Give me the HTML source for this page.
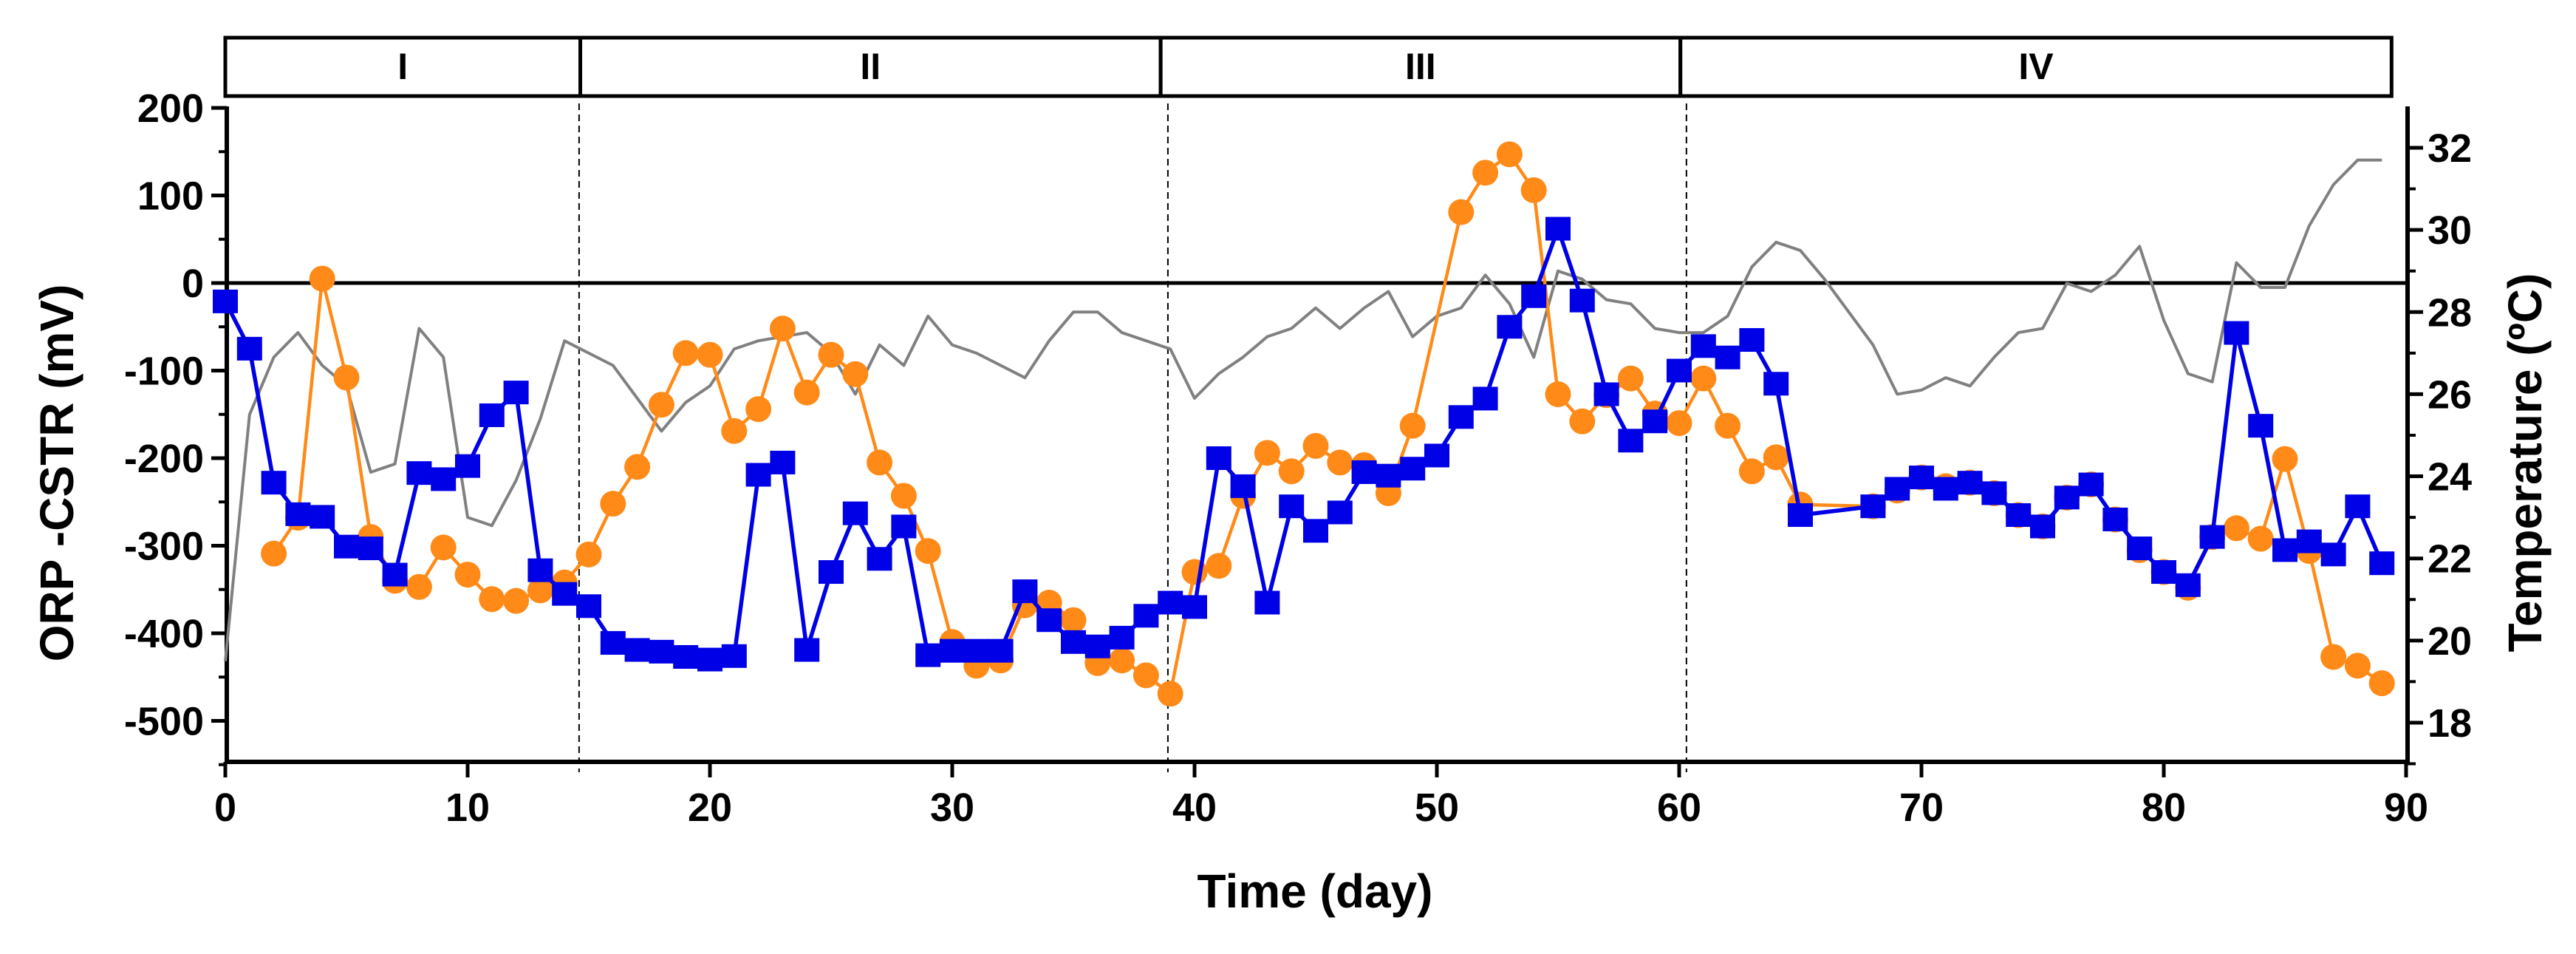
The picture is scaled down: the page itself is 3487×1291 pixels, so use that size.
<!DOCTYPE html>
<html><head><meta charset="utf-8"><style>
html,body{margin:0;padding:0;background:#fff;}
svg{display:block;font-family:"Liberation Sans",Arial,sans-serif;font-weight:bold;}
</style></head><body>
<svg id="chart" width="3487" height="1291" viewBox="0 0 3487 1291" xmlns="http://www.w3.org/2000/svg">
<rect x="0" y="0" width="3487" height="1291" fill="#fff"/>
<g id="phases"></g>
<g id="axes"></g>
<g id="series"></g>
<text x="1780" y="1228" font-size="64" text-anchor="middle">Time (day)</text>
<text transform="translate(99,640) rotate(-90)" font-size="64" text-anchor="middle">ORP -CSTR (mV)</text>
<text transform="translate(3440,626) rotate(-90)" font-size="64" text-anchor="middle">Temperature (ºC)</text>
</svg>
<script>
const xTicks=[0,10,20,30,40,50,60,70,80,90];
const yTicks=[200,100,0,-100,-200,-300,-400,-500];
const tTicks=[18,20,22,24,26,28,30,32];
const phaseNames=["I","II","III","IV"];
const phaseBounds=[0,14.65,38.6,60.05,89.4];
const dashDays=[14.6,38.9,60.3];
const blueDays=[0,1,2,3,4,5,6,7,8,9,10,11,12,13,14,15,16,17,18,19,20,21,22,23,24,25,26,27,28,29,30,31,32,33,34,35,36,37,38,39,40,41,42,43,44,45,46,47,48,49,50,51,52,53,54,55,56,57,58,59,60,61,62,63,64,65,68,69,70,71,72,73,74,75,76,77,78,79,80,81,82,83,84,85,86,87,88,89];
const blueVals=[-21,-75,-228,-264,-267,-301,-303,-333,-217,-224,-209,-151,-125,-328,-355,-369,-411,-419,-421,-427,-430,-426,-219,-205,-419,-330,-263,-315,-278,-425,-420,-420,-420,-352,-385,-410,-415,-405,-380,-365,-370,-200,-232,-365,-255,-283,-262,-216,-220,-212,-197,-153,-132,-50,-15,62,-20,-127,-180,-158,-100,-72,-85,-65,-115,-265,-255,-235,-222,-235,-228,-240,-265,-278,-245,-230,-270,-303,-330,-345,-290,-57,-163,-305,-295,-310,-255,-320];
const orangeDays=[2,3,4,5,6,7,8,9,10,11,12,13,14,15,16,17,18,19,20,21,22,23,24,25,26,27,28,29,30,31,32,33,34,35,36,37,38,39,40,41,42,43,44,45,46,47,48,49,51,52,53,54,55,56,57,58,59,60,61,62,63,64,65,68,69,70,71,72,73,74,75,76,77,78,79,80,81,82,83,84,85,86,87,88,89];
const orangeVals=[-309,-268,5,-108,-290,-340,-347,-302,-333,-361,-363,-351,-342,-310,-252,-210,-139,-80,-82,-169,-144,-52,-125,-82,-104,-205,-243,-306,-410,-437,-431,-368,-365,-385,-434,-431,-448,-469,-330,-323,-243,-194,-215,-186,-205,-208,-240,-163,81,126,147,106,-127,-158,-128,-109,-149,-160,-109,-163,-215,-199,-253,-255,-237,-222,-232,-228,-240,-265,-278,-245,-230,-270,-305,-330,-348,-290,-280,-292,-201,-306,-427,-437,-457];
const tempVals=[19.5,25.5,26.9,27.5,26.7,26.2,24.1,24.3,27.6,26.9,23.0,22.8,23.9,25.4,27.3,27.0,26.7,25.9,25.1,25.8,26.2,27.1,27.3,27.4,27.5,27.0,26.0,27.2,26.7,27.9,27.2,27.0,26.7,26.4,27.3,28.0,28.0,27.5,27.3,27.1,25.9,26.5,26.9,27.4,27.6,28.1,27.6,28.1,28.5,27.4,27.9,28.1,28.9,28.2,26.9,29.0,28.8,28.3,28.2,27.6,27.5,27.5,27.9,29.1,29.7,29.5,28.8,28.0,27.2,26.0,26.1,26.4,26.2,26.9,27.5,27.6,28.7,28.5,28.9,29.6,27.8,26.5,26.3,29.2,28.6,28.6,30.1,31.1,31.7,31.7];

const NS="http://www.w3.org/2000/svg";
const X=d=>305+d*32.8;
const Y=v=>383-v*1.185;
const T=t=>200+(32-t)*55.57;
function mk(tag,attrs,parent){const e=document.createElementNS(NS,tag);for(const k in attrs)e.setAttribute(k,attrs[k]);parent.appendChild(e);return e;}
const ph=document.getElementById('phases'),ax=document.getElementById('axes'),se=document.getElementById('series');

for(let i=0;i<phaseNames.length;i++){
  const x0=X(phaseBounds[i]),x1=X(phaseBounds[i+1]);
  const r=mk('rect',{x:x0,y:51,width:x1-x0,height:79,fill:'none',stroke:'#000','stroke-width':5},ph);
  
  
  const t=mk('text',{x:(x0+x1)/2,y:107,'font-size':50,'text-anchor':'middle'},ph);
  t.textContent=phaseNames[i];
  
  
}
dashDays.forEach(d=>{
  const l=mk('line',{x1:X(d),x2:X(d),y1:140,y2:1045,stroke:'#000','stroke-width':2,'stroke-dasharray':'9,6'},ax);
  
  
});
const z=mk('line',{x1:307,x2:3259,y1:Y(0),y2:Y(0),stroke:'#000','stroke-width':5},ax);


const la=mk('line',{x1:307,x2:307,y1:144,y2:1033,stroke:'#000','stroke-width':6},ax);


const ra=mk('line',{x1:3259,x2:3259,y1:144,y2:1033,stroke:'#000','stroke-width':6},ax);


const ba=mk('line',{x1:304,x2:3262,y1:1031,y2:1031,stroke:'#000','stroke-width':6},ax);


yTicks.forEach(v=>{
  mk('line',{x1:286,x2:307,y1:Y(v),y2:Y(v),stroke:'#000','stroke-width':5},ax);
  mk('line',{x1:296,x2:307,y1:Y(v-50),y2:Y(v-50),stroke:'#000','stroke-width':4},ax);
  const t=mk('text',{x:276,y:Y(v)+19,'font-size':54,'text-anchor':'end'},ax);
  t.textContent=v;
  
  
});
xTicks.forEach(d=>{
  mk('line',{x1:X(d),x2:X(d),y1:1031,y2:1052,stroke:'#000','stroke-width':5},ax);
  const t=mk('text',{x:X(d),y:1111,'font-size':54,'text-anchor':'middle'},ax);
  t.textContent=d;
  
  
});
tTicks.forEach(v=>{
  mk('line',{x1:3259,x2:3280,y1:T(v),y2:T(v),stroke:'#000','stroke-width':5},ax);
  mk('line',{x1:3259,x2:3270,y1:T(v-1),y2:T(v-1),stroke:'#000','stroke-width':4},ax);
  const t=mk('text',{x:3286,y:T(v)+19,'font-size':54,'text-anchor':'start'},ax);
  t.textContent=v;
  
  
});
const tp=mk('polyline',{points:tempVals.map((t,i)=>X(i)+','+T(t)).join(' '),fill:'none',stroke:'#808080','stroke-width':4,'stroke-linejoin':'round'},se);


const op=mk('polyline',{points:orangeVals.map((v,i)=>X(orangeDays[i])+','+Y(v)).join(' '),fill:'none',stroke:'#ff8a17','stroke-width':4.5},se);


orangeVals.forEach((v,i)=>{
  const c=mk('circle',{cx:X(orangeDays[i]),cy:Y(v),r:17.5,fill:'#ff8a17'},se);
  
  
});
const bp=mk('polyline',{points:blueVals.map((v,i)=>X(blueDays[i])+','+Y(v)).join(' '),fill:'none',stroke:'#0000e6','stroke-width':5.5},se);


blueVals.forEach((v,i)=>{
  const s=mk('rect',{x:X(blueDays[i])-17,y:Y(v)-16,width:34,height:32,fill:'#0000e6'},se);
  
  
});
</script>
</body></html>
